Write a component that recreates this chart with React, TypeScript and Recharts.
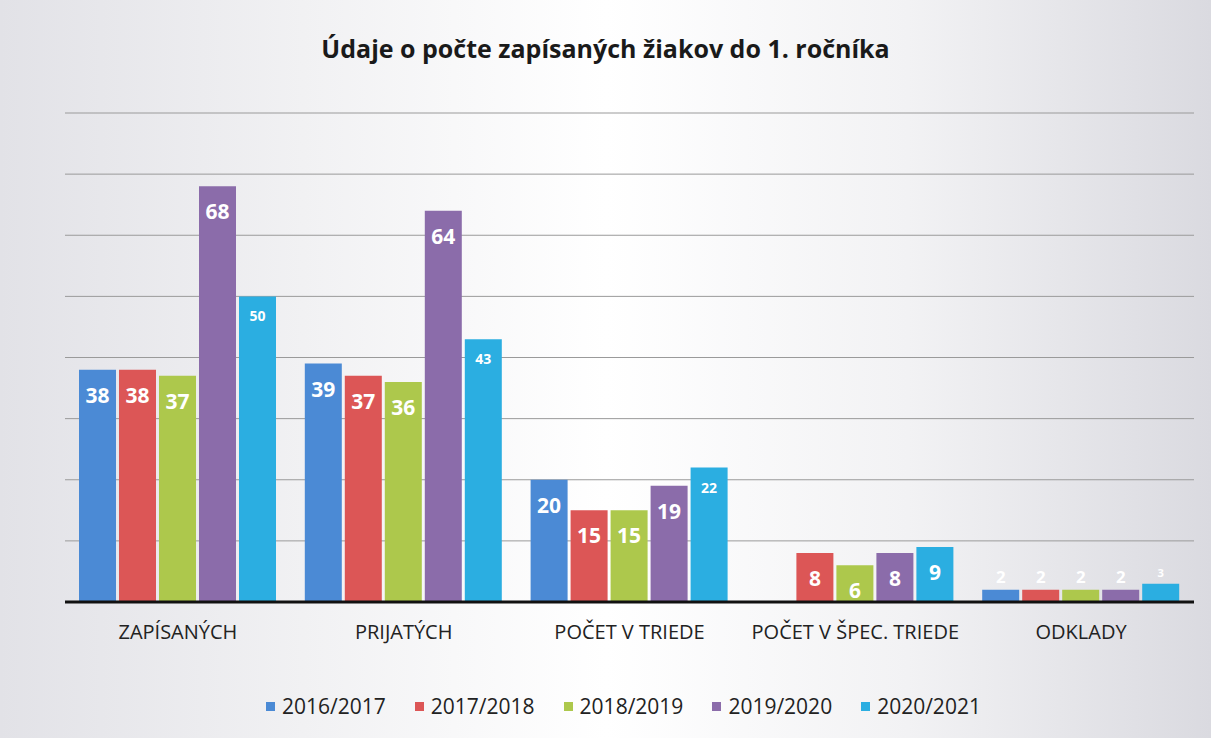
import { BarChart, Bar, XAxis, YAxis, CartesianGrid, Legend, LabelList } from "recharts"

const categories = ["ZAPÍSANÝCH", "PRIJATÝCH", "POČET V TRIEDE", "POČET V ŠPEC. TRIEDE", "ODKLADY"]
const years = ["2016/2017", "2017/2018", "2018/2019", "2019/2020", "2020/2021"]

const y2016 = [38, 39, 20, null, 2]
const y2017 = [38, 37, 15, 8, 2]
const y2018 = [37, 36, 15, 6, 2]
const y2019 = [68, 64, 19, 8, 2]
const y2020 = [50, 43, 22, 9, 3]

const yTicks = [0, 10, 20, 30, 40, 50, 60, 70, 80]

const colors = ["#4b8ad5", "#dc5656", "#adc84c", "#8b6caa", "#2baee1"]
// label font sizes per series (the last series uses a smaller font, except one bar)
const labelSizes = [
  [21, 21, 21, 21, 21],
  [21, 21, 21, 21, 21],
  [21, 21, 21, 21, 21],
  [21, 21, 21, 21, 21],
  [14, 14, 14, 21, 14],
]

const seriesValues = [y2016, y2017, y2018, y2019, y2020]

const data = categories.map((name, i) => {
  const row: Record<string, any> = { name }
  years.forEach((yr, s) => {
    row[yr] = seriesValues[s][i]
  })
  return row
})

const font = "'Open Sans', sans-serif"

function makeLabel(s: number) {
  return (props: any) => {
    const { x, y, width, height, value, index } = props
    if (value == null) return null
    const size = labelSizes[s][index]
    const cx = x + width / 2
    let baseline
    if (height < 24) {
      baseline = y - 7
    } else {
      baseline = y + (size > 16 ? 33 : 25)
    }
    return (
      <text x={cx} y={baseline} textAnchor="middle" fill="#fff" fontFamily={font} fontWeight={700} fontSize={height < 24 ? size * 0.8 : size}>
        {value}
      </text>
    )
  }
}

function LegendContent() {
  return (
    <div style={{ display: "flex", justifyContent: "center", gap: 29, fontFamily: font, fontSize: 21, color: "#222" }}>
      {years.map((yr, i) => (
        <div key={yr} style={{ display: "flex", alignItems: "center" }}>
          <span style={{ display: "inline-block", width: 9, height: 9, background: colors[i], marginRight: 7 }} />
          <span>{yr}</span>
        </div>
      ))}
    </div>
  )
}

export default function App() {
  return (
    <div
      style={{
        position: "absolute",
        left: 0,
        top: 0,
        width: 1211,
        height: 738,
        background: "linear-gradient(90deg, #e2e2e7 0%, #f1f1f3 25%, #ffffff 50%, #f2f2f4 75%, #dadae0 100%)",
      }}
    >
      <div
        style={{
          position: "absolute",
          top: 31,
          left: 0,
          width: 1211,
          textAlign: "center",
          fontFamily: font,
          fontWeight: 700,
          fontSize: 25,
          color: "#1a1a1a",
        }}
      >
        Údaje o počte zapísaných žiakov do 1. ročníka
      </div>
      <BarChart
        width={1211}
        height={738}
        data={data}
        margin={{ top: 113, right: 17, left: 65, bottom: 96 }}
        barSize={37}
        barGap={3}
      >
        <CartesianGrid vertical={false} stroke="#9a9a9a" strokeWidth={1} />
        <YAxis hide domain={[0, 80]} ticks={yTicks} />
        <XAxis
          dataKey="name"
          height={40}
          tickLine={false}
          axisLine={{ stroke: "#111", strokeWidth: 3 }}
          tickMargin={17}
          tick={{ fill: "#222", fontSize: 20, fontFamily: font }}
          interval={0}
        />
        <Legend
          verticalAlign="middle"
          align="center"
          layout="horizontal"
          content={<LegendContent />}
          wrapperStyle={{ top: 692, left: 18, width: 1211 }}
        />
        {years.map((yr, s) => (
          <Bar key={yr} dataKey={yr} fill={colors[s]} isAnimationActive={false}>
            <LabelList dataKey={yr} content={makeLabel(s)} />
          </Bar>
        ))}
      </BarChart>
    </div>
  )
}
